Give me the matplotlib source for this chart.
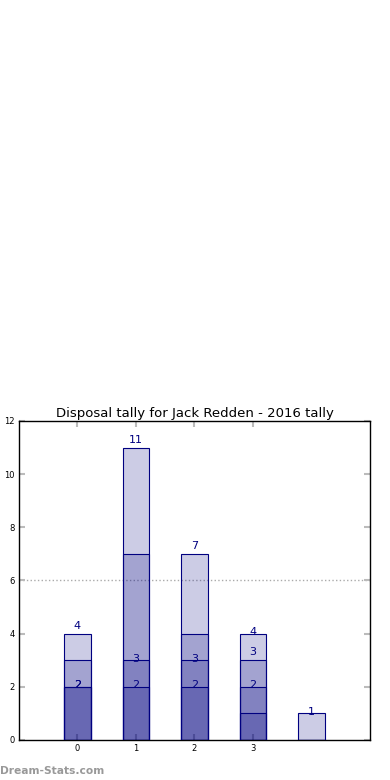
import matplotlib
matplotlib.use("Agg")
import matplotlib.pyplot as plt
import numpy as np

title = "Disposal tally for Jack Redden - 2016 tally"
positions = [0, 1, 2, 3, 4]
tick_positions = [0, 1, 2, 3]

# overlaid series (drawn with alpha, so overlaps darken)
series_a = [4, 11, 7, 3, 0]
series_b = [2, 3, 3, 4, 1]
series_c = [2, 2, 2, 2, 0]
series_d = [3, 7, 4, 1, 0]   # not labelled in the original
labelled = [(series_a, 0.3), (series_b, 0.05), (series_c, 0.05)]

fig = plt.figure(figsize=(3.9, 7.8), dpi=100)
ax = fig.add_axes([0.0487, 0.0513, 0.9, 0.409])

for vals in (series_a, series_b, series_c, series_d):
    ax.bar(positions, vals, width=0.45, color="navy", alpha=0.2,
           edgecolor="none", zorder=2)
    ax.bar(positions, vals, width=0.45, color="none",
           edgecolor="navy", linewidth=0.8, zorder=3)

for vals, off in labelled:
    for x, v in zip(positions, vals):
        if v > 0:
            ax.text(x, v + off, str(v), ha="center", va="center",
                    color="navy", fontsize=8, zorder=4)

ax.axhline(6, color="#aaaaaa", linestyle=":", linewidth=1, zorder=1)

ax.set_xlim(-1, 5)
ax.set_ylim(0, 12)
ax.set_xticks(tick_positions)
ax.set_yticks(range(0, 13, 2))
ax.tick_params(direction="in", length=4, color="#bbbbbb", width=1.5,
               labelsize=6, top=True, right=True, pad=3)
for s in ax.spines.values():
    s.set_color("black")
    s.set_linewidth(1)

ax.set_title(title, fontsize=9.5, pad=3)

fig.text(0.0, 0.005, "Dream-Stats.com", color="#999999", fontsize=7.7,
         fontweight="bold", ha="left", va="bottom")

fig.savefig("out.png", dpi=100)
